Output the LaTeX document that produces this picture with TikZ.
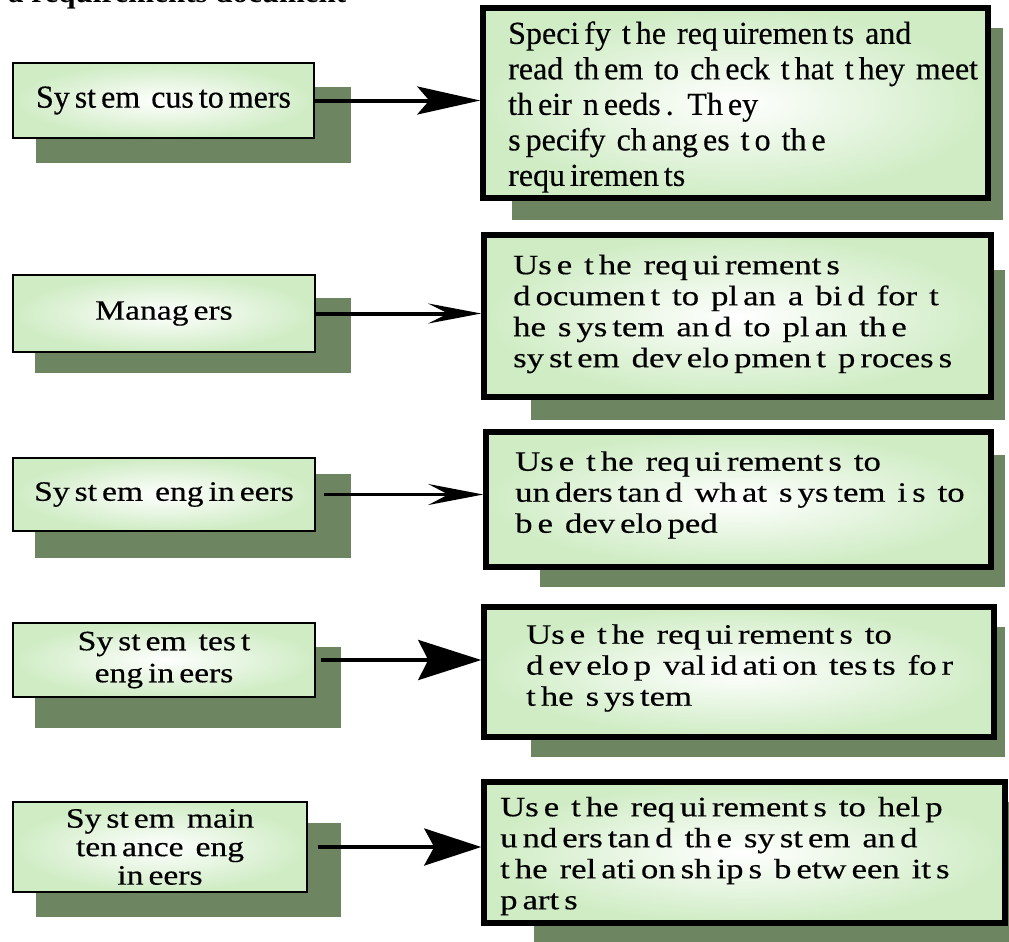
\documentclass[tikz,border=0pt]{standalone}
\usepackage{fontspec}
\setmainfont{Liberation Serif}
\newfontfamily\plainrm{Liberation Serif}[FakeBold=0.4]
\newfontfamily\widerm{Liberation Serif}[FakeStretch=1.24, FakeBold=0.4]
\newfontfamily\midrm{Liberation Serif}[FakeStretch=1.2, FakeBold=0.4]
\usetikzlibrary{arrows.meta}

\definecolor{boxgreen}{RGB}{207,236,196}
\definecolor{shadowgreen}{RGB}{110,133,98}

% small gap that splits a word
\newcommand\gp{\hspace{5pt}}
% type faces for the boxes
\newcommand\bigface{\plainrm\fontsize{32}{35.5}\selectfont\spaceskip=11pt\relax}
\newcommand\roleface{\midrm\fontsize{28}{28.5}\selectfont\spaceskip=12pt\relax}
\newcommand\roleloose{\midrm\fontsize{28}{32}\selectfont\spaceskip=12pt\relax}
\newcommand\taskface{\widerm\fontsize{28}{31}\selectfont\spaceskip=12pt\relax}

% box from corner (x1,y1) to corner (x2,y2): name, style, x1, y1, x2, y2, text
\newcommand\placebox[7]{%
  \node[#2, minimum width={(#5-#3)*1pt}, minimum height={(#6-#4)*1pt}]
    (#1) at ({(#3+#5)/2},{(#4+#6)/2}) {#7};}

\begin{document}
\begin{tikzpicture}[x=1pt, y=-1pt,
  rolebox/.style={draw=black, line width=2pt, inner color=white,
    outer color=boxgreen, align=center, inner sep=0pt, font=\roleface},
  usebox/.style={draw=black, line width=5.5pt, inner color=white,
    outer color=boxgreen, inner sep=0pt},
  usetext/.style={anchor=west, align=left, inner sep=0pt, font=\taskface},
  link/.style={line width=4pt, line cap=butt}
]
\useasboundingbox (0,0) rectangle (1009,942);

% heading, cut by the top edge
\node[anchor=base west, inner sep=0pt,
      font=\bfseries\fontsize{31}{31}\selectfont] (title) at (8,3)
  {a requirements document};

% drop shadows
\fill[shadowgreen] (36,87) rectangle (351,163);
\fill[shadowgreen] (35,298) rectangle (351,373);
\fill[shadowgreen] (35,474) rectangle (351,558);
\fill[shadowgreen] (35,647) rectangle (341,728);
\fill[shadowgreen] (36,823) rectangle (341,917);
\fill[shadowgreen] (512,28) rectangle (1003,220);
\fill[shadowgreen] (531,270) rectangle (1005,420);
\fill[shadowgreen] (540,455) rectangle (1005,587);
\fill[shadowgreen] (531,627) rectangle (1005,757);
\fill[shadowgreen] (534,802) rectangle (1009,942);

% readers of the document
\placebox{c1}{rolebox, font=\bigface}{13}{63}{314}{138}
  {Sy\gp st\gp em cus\gp to\gp mers}
\placebox{c2}{rolebox}{13}{275}{315}{352}
  {Manag\gp ers}
\placebox{c3}{rolebox}{13}{458}{315}{531}
  {Sy\gp st\gp em eng\gp in\gp eers}
\placebox{c4}{rolebox, font=\roleloose}{13}{623}{315}{697}
  {Sy\gp st\gp em tes\gp t\\eng\gp in\gp eers}
\placebox{c5}{rolebox}{13}{802}{307}{892}
  {Sy\gp st\gp em main\\ten\gp ance eng\\in\gp eers}

% how each reader uses it
\placebox{r1}{usebox}{483}{8}{988}{198}{}
\placebox{r2}{usebox}{484}{235}{991}{397}{}
\placebox{r3}{usebox}{486}{432}{991}{567}{}
\placebox{r4}{usebox}{484}{607}{994}{737}{}
\placebox{r5}{usebox}{484}{782}{1005}{923}{}

\node[usetext, font=\bigface] (t1) at (508,107)
  {Speci\gp fy t\gp he req\gp uiremen\gp ts and\\
   read th\gp em to ch\gp eck t\gp hat t\gp hey meet\\
   th\gp eir n\gp eeds\gp. Th\gp ey\\
   s\gp pecify ch\gp ang\gp es t\gp o th\gp e\\
   requ\gp iremen\gp ts};
\node[usetext] (t2) at (513,314)
  {Us\gp e t\gp he req\gp ui\gp rement\gp s\\
   d\gp ocumen\gp t to pl\gp an a bi\gp d for t\\
   he s\gp ys\gp tem an\gp d to pl\gp an th\gp e\\
   sy\gp st\gp em dev\gp elo\gp pmen\gp t p\gp roces\gp s};
\node[usetext] (t3) at (515,495)
  {Us\gp e t\gp he req\gp ui\gp rement\gp s to\\
   un\gp ders\gp tan\gp d wh\gp at s\gp ys\gp tem i\gp s to\\
   b\gp e dev\gp elo\gp ped};
\node[usetext] (t4) at (526,668)
  {Us\gp e t\gp he req\gp ui\gp rement\gp s to\\
   d\gp ev\gp elo\gp p val\gp id\gp ati\gp on tes\gp ts fo\gp r\\
   t\gp he s\gp ys\gp tem};
\node[usetext] (t5) at (500,856)
  {Us\gp e t\gp he req\gp ui\gp rement\gp s to hel\gp p\\
   u\gp nd\gp ers\gp tan\gp d th\gp e sy\gp st\gp em an\gp d\\
   t\gp he rel\gp ati\gp on\gp sh\gp ip\gp s b\gp etw\gp een it\gp s\\
   p\gp art\gp s};

% connectors
\draw[link, -{Stealth[length=63pt, width=28pt, inset=12pt]}]
  (c1.east) -- (c1.east -| r1.west);
\draw[link, -{Stealth[length=53pt, width=20pt, inset=20pt]}]
  (c2.east) -- (c2.east -| r2.west);
\draw[link, line width=3pt, shorten <=8pt,
      -{Stealth[length=55pt, width=21pt, inset=20pt]}]
  (c3.east) -- (c3.east -| r3.west);
\draw[link, shorten <=5pt, -{Stealth[length=63pt, width=40pt, inset=10pt]}]
  (c4.east) -- (c4.east -| r4.west);
\draw[link, shorten <=10pt, -{Stealth[length=57pt, width=37pt, inset=10pt]}]
  (c5.east) -- (c5.east -| r5.west);
\end{tikzpicture}
\end{document}
